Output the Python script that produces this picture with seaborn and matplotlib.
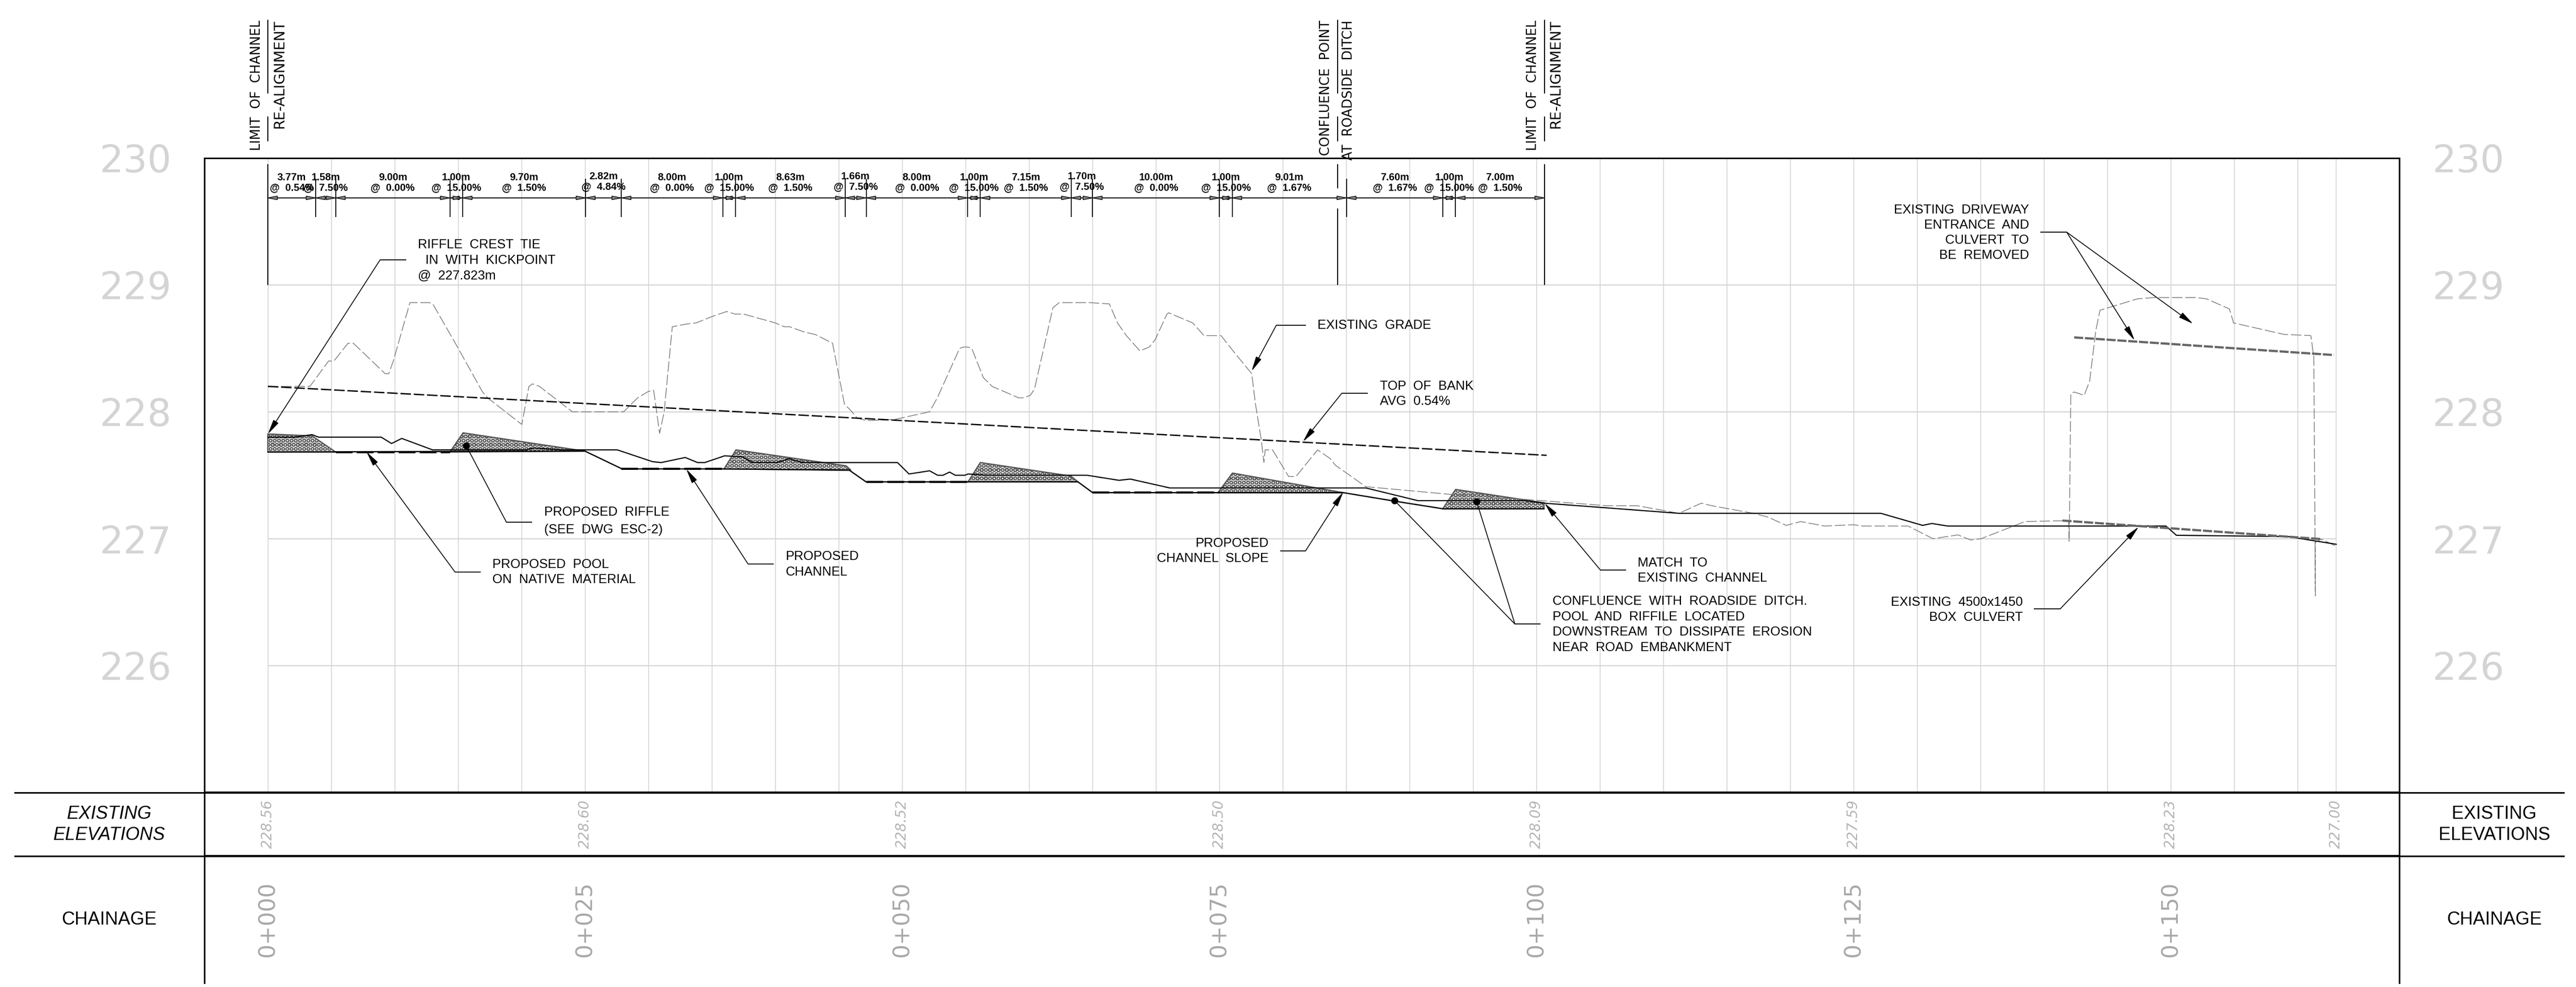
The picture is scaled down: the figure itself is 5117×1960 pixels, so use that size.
#!/usr/bin/env python3

import matplotlib
matplotlib.use("Agg")
import matplotlib.pyplot as plt
import numpy as np
import seaborn as sns

# -------------------------------
# DATA (chainage in m, elevation in m)
# -------------------------------
grade_ch = [0, 3.32, 4.79, 5.21, 6.32, 6.74, 9.25, 9.53, 9.89, 11.2, 11.33, 12.73, 13.0, 14.95,
            16.9, 17.32, 20.02, 20.58, 20.86, 21.41, 24.0, 28.04, 29.15, 29.99, 30.41, 30.88,
            31.24, 31.88, 32.91, 33.75, 35.0, 36.17, 36.81, 37.5, 40.0, 40.7, 41.12, 42.24, 43.17,
            44.51, 45.45, 45.95, 46.46, 47.21, 49.43, 52.16, 52.77, 54.53, 54.86, 55.14, 55.48,
            56.39, 57.09, 59.18, 59.6, 60.1, 60.43, 61.88, 62.38, 64.75, 66.33, 66.97, 67.67,
            68.73, 69.48, 69.95, 70.87, 71.0, 72.9, 73.79, 75.13, 76.16, 77.55, 77.83, 78.3,
            78.51, 78.61, 79.19, 80.46, 81.04, 82.74, 83.75, 84.13, 86.54, 93.12, 99.07, 105.5,
            107.93, 111.22, 112.99, 113.81, 117.1, 118.25, 119.67, 120.82, 122.69, 125.0, 125.66,
            129.28, 131.25, 133.22, 134.21, 135.03, 138.49, 141.94, 141.98, 142.11, 142.37,
            143.16, 143.59, 144.08, 144.41, 147.37, 148.69, 151.98, 152.8, 154.61, 154.94,
            158.89, 161.03, 161.26, 161.39, 161.36, 161.85, 163.04]
grade_el = [228.2, 228.2, 228.4, 228.4, 228.54, 228.54, 228.3, 228.3, 228.4, 228.86, 228.86, 228.86,
            228.85, 228.51, 228.16, 228.11, 227.9, 228.2, 228.22, 228.2, 228.0, 228.0, 228.11,
            228.16, 228.17, 227.83, 228.0, 228.67, 228.69, 228.7, 228.75, 228.79, 228.77, 228.77,
            228.7, 228.67, 228.67, 228.63, 228.608, 228.54, 228.06, 228.01, 227.95, 227.93,
            227.94, 228.0, 228.11, 228.5, 228.51, 228.51, 228.5, 228.27, 228.2, 228.11, 228.11,
            228.13, 228.18, 228.82, 228.86, 228.86, 228.85, 228.7, 228.6, 228.48, 228.51, 228.57,
            228.77, 228.78, 228.7, 228.6, 228.6, 228.47, 228.3, 228.07, 227.78, 227.6, 227.7,
            227.7, 227.49, 227.49, 227.7, 227.63, 227.58, 227.41, 227.35, 227.31, 227.26, 227.26,
            227.2, 227.28, 227.26, 227.2, 227.17, 227.105, 227.135, 227.1, 227.11, 227.1, 227.1,
            227.0, 227.03, 226.99, 227.0, 227.135, 227.143, 226.98, 228.14, 228.156, 228.13,
            228.24, 228.64, 228.8, 228.89, 228.9, 228.9, 228.89, 228.81, 228.7, 228.61, 228.6,
            228.43, 226.55, 226.97, 226.997, 226.94]

channel_ch = [0, 2.1, 3.49, 4.0, 8.94, 9.75, 10.56, 12.98, 20.33, 20.96, 23.11, 27.54, 30.32, 31.01,
              32.9, 33.87, 34.44, 36.0, 37.43, 38.19, 40.14, 41.07, 42.16, 49.63, 50.54, 52.16,
              52.79, 53.22, 53.73, 54.18, 54.94, 55.19, 56.59, 64.56, 67.09, 67.98, 71.09, 74.13,
              86.54, 90.64, 99.07, 100.59, 105.27, 111.22, 113.83, 127.14, 130.43, 131.15, 132.4,
              149.61, 150.43, 159.22, 163.04]
channel_el = [227.8, 227.8, 227.82, 227.8, 227.8, 227.75, 227.79, 227.7, 227.7, 227.715, 227.7, 227.7,
              227.607, 227.6, 227.64, 227.6, 227.6, 227.653, 227.645, 227.6, 227.6, 227.63, 227.6,
              227.6, 227.51, 227.535, 227.5, 227.5, 227.525, 227.5, 227.5, 227.51, 227.5, 227.5,
              227.46, 227.47, 227.4, 227.4, 227.4, 227.3, 227.3, 227.28, 227.245, 227.2, 227.2,
              227.2, 227.105, 227.12, 227.1, 227.1, 227.027, 227.017, 226.956]

proposed_ch = [0, 25.0, 27.92, 35.96, 45.83, 47.15, 63.85, 65.01, 84.76, 88.81, 92.61, 100.59]
proposed_el = [227.683, 227.69, 227.55, 227.55, 227.54, 227.448, 227.448, 227.363, 227.363, 227.296,
               227.236, 227.236]

pool_ch = [(5.35, 14.35), (27.87, 35.87), (47.16, 55.16), (65.01, 75.01)]
pool_el = [227.683, 227.55, 227.448, 227.363]

bank_ch = [0, 100.8]
bank_el = [228.2, 227.657]

culvert_top_ch = [142.37, 162.84]
culvert_top_el = [228.586, 228.447]
culvert_low_ch = [141.45, 161.85]
culvert_low_el = [227.143, 226.997]

riffle_ch = [[0, 3.49, 5.34, 0],
             [14.35, 15.39, 25.0],
             [35.96, 36.9, 45.58, 45.96],
             [55.19, 56.16, 63.29, 63.85],
             [74.89, 76.03, 84.76],
             [92.61, 93.62, 100.59, 100.59]]
riffle_el = [[227.825, 227.81, 227.683, 227.683],
             [227.683, 227.834, 227.69],
             [227.55, 227.7, 227.574, 227.54],
             [227.448, 227.6, 227.494, 227.448],
             [227.363, 227.517, 227.363],
             [227.236, 227.388, 227.283, 227.236]]

seg_lengths = [3.77, 1.58, 9.00, 1.00, 9.70, 2.82, 8.00, 1.00, 8.63, 1.66,
               8.00, 1.00, 7.15, 1.70, 10.00, 1.00, 9.01, 7.60, 1.00, 7.00]
seg_slopes = [0.54, 7.50, 0.00, 15.00, 1.50, 4.84, 0.00, 15.00, 1.50, 7.50,
              0.00, 15.00, 1.50, 7.50, 0.00, 15.00, 1.67, 1.67, 15.00, 1.50]

table_ch = [0, 25, 50, 75, 100, 125, 150, 163]
table_el = ["228.56", "228.60", "228.52", "228.50", "228.09", "227.59", "228.23", "227.00"]
chainage_ch = [0, 25, 50, 75, 100, 125, 150]
chainage_lab = ["0+000", "0+025", "0+050", "0+075", "0+100", "0+125", "0+150"]
elev_ticks = [226, 227, 228, 229, 230]
grid_ch = list(range(0, 165, 5)) + [163]
grid_el = [226, 227, 228, 229]

# -------------------------------
# FIGURE
# -------------------------------
W, H = 5117, 1960
sns.set_theme(style="white")
plt.rcParams["lines.scale_dashes"] = False
plt.rcParams["hatch.linewidth"] = 1.1
plt.rcParams["hatch.color"] = "#4a4a4a"
LABEL_FONT = "Liberation Sans"

fig = plt.figure(figsize=(W / 100, H / 100), dpi=100, facecolor="white")
ax = fig.add_axes([406 / W, (H - 1952) / H, (4766 - 406) / W, (1952 - 313.6) / H])
ax.set_xlim(-5, 168)
ax.set_ylim(223.5, 230)


# picture pixel -> chainage / elevation, used for the notes only
def pt(px, py):
    return (px - 532) / 25.2, 230 - (py - 313.6) / 252


for side in ["left", "right", "top"]:
    ax.spines[side].set_visible(True)
    ax.spines[side].set_color("black")
    ax.spines[side].set_linewidth(2.2)
ax.spines["bottom"].set_visible(False)

ax.set_xticks([])
ax.set_yticks(elev_ticks)
ax.tick_params(axis="y", length=0, pad=47, labelsize=54, labelcolor="#d4d4d4",
               labelleft=True, labelright=True)
for lab in ax.get_yticklabels():
    lab.set_family("DejaVu Sans")

# -------------------------------
# GRID AND TABLE LINES
# -------------------------------
ax.vlines(grid_ch, 225, 230, color="#cccccc", lw=1.0, zorder=1)
ax.hlines(grid_el, 0, 163, color="#d4d4d4", lw=1.5, zorder=1)
for y in [225, 224.5]:
    ax.plot([-20, -5], [y, y], color="black", lw=2.3, clip_on=False, solid_capstyle="butt")
    ax.plot([-5, 168], [y, y], color="black", lw=3.2, solid_capstyle="butt")
    ax.plot([168, 181], [y, y], color="black", lw=2.3, clip_on=False, solid_capstyle="butt")

# -------------------------------
# PROFILE LINES
# -------------------------------
for cx, cy in zip(riffle_ch, riffle_el):
    ax.fill(cx, cy, facecolor="#dddddd", edgecolor="#555555", hatch="OOo", lw=1.8, zorder=2)

sns.lineplot(x=grade_ch, y=grade_el, sort=False, estimator=None, errorbar=None, ax=ax,
             color="#707070", linewidth=1.0, linestyle=(0, (15, 4)), zorder=3)
sns.lineplot(x=channel_ch, y=channel_el, sort=False, estimator=None, errorbar=None, ax=ax,
             color="black", linewidth=1.6, zorder=4)
sns.lineplot(x=proposed_ch, y=proposed_el, sort=False, estimator=None, errorbar=None, ax=ax,
             color="black", linewidth=1.8, zorder=4)
for (c0, c1), e in zip(pool_ch, pool_el):
    ax.plot([c0, c1], [e, e], color="black", lw=3.0, ls=(0, (24, 6)), zorder=4)
sns.lineplot(x=bank_ch, y=bank_el, sort=False, estimator=None, errorbar=None, ax=ax,
             color="black", linewidth=1.9, linestyle=(0, (15, 4)), zorder=4)
for cx, cy in [(culvert_top_ch, culvert_top_el), (culvert_low_ch, culvert_low_el)]:
    sns.lineplot(x=cx, y=cy, sort=False, estimator=None, errorbar=None, ax=ax,
                 color="#666666", linewidth=3.2, linestyle=(0, (13, 2.5)), zorder=5)

# -------------------------------
# SEGMENT DIMENSIONS
# -------------------------------
dim_y = 229.685
edges = np.concatenate([[0], np.cumsum(seg_lengths)])
ax.plot([edges[0], edges[-1]], [dim_y, dim_y], color="black", lw=1.5, zorder=4)
ax.vlines(edges[1:-1], 229.534, 229.836, color="black", lw=1.3, zorder=4)
for c in [0, edges[-1]]:
    ax.vlines(c, 229.0, 229.95, color="black", lw=1.4, zorder=4)
ax.vlines(84.3, 229.76, 229.95, color="black", lw=1.4, zorder=4)
ax.vlines(84.3, 229.0, 229.6, color="black", lw=1.4, zorder=4)

head_l, head_h = 0.75, 0.014
for c0, c1, ln, sl in zip(edges[:-1], edges[1:], seg_lengths, seg_slopes):
    ax.fill([c0, c0 + head_l, c0 + head_l], [dim_y, dim_y + head_h, dim_y - head_h],
            facecolor="#8a8a8a", edgecolor="black", lw=1.0, zorder=5)
    ax.fill([c1, c1 - head_l, c1 - head_l], [dim_y, dim_y + head_h, dim_y - head_h],
            facecolor="#8a8a8a", edgecolor="black", lw=1.0, zorder=5)
    up = 0.008 if ln in (2.82, 1.66, 1.70) else 0
    mid = (c0 + c1) / 2
    ax.text(mid, 229.845 + up, f"{ln:.2f}m", ha="center", va="center", fontsize=14.5,
            family=LABEL_FONT, weight="bold", color="black", zorder=6)
    ax.text(mid, 229.765 + up, f"@  {sl:.2f}%", ha="center", va="center", fontsize=14.5,
            family=LABEL_FONT, weight="bold", color="black", zorder=6)

# -------------------------------
# TOP MARKERS
# -------------------------------
for c in [0, 84.3, edges[-1]]:
    ax.plot([c, c], [230.51, 231.086], color="black", lw=1.4, clip_on=False)
    ax.plot([c, c], [230.133, 230.324], color="black", lw=1.4, clip_on=False)

top_labels = [(510, "LIMIT  OF  CHANNEL"), (555, "RE-ALIGNMENT"),
              (2634, "CONFLUENCE  POINT"), (2679, "AT  ROADSIDE  DITCH"),
              (3045, "LIMIT  OF  CHANNEL"), (3090, "RE-ALIGNMENT")]
for px, lab in top_labels:
    x, y = pt(px, 40)
    size = 20.5 if lab == "RE-ALIGNMENT" else 18.5
    ax.text(x, y, lab, rotation=90, ha="center", va="top", fontsize=size, family="DejaVu Sans",
            color="black", clip_on=False)


# -------------------------------
# LEADERS AND NOTES
# -------------------------------
def leader(x0, x1, y, tips, dots=False):
    ax.plot(*zip(pt(x0, y), pt(x1, y)), color="black", lw=1.3, zorder=6, solid_capstyle="butt")
    for tx, ty in tips:
        if dots:
            ax.plot(*zip(pt(x1, y), pt(tx, ty)), color="black", lw=1.2, zorder=6)
            ax.plot(*pt(tx, ty), marker="o", ms=9, color="black", zorder=7)
        else:
            ax.annotate("", xy=pt(tx, ty), xytext=pt(x1, y), zorder=6,
                        arrowprops=dict(arrowstyle="-|>,head_length=1.8,head_width=0.36",
                                        mutation_scale=10, color="black", lw=1.2,
                                        shrinkA=0, shrinkB=0))


def note(px, py, lab, ha="left"):
    x, y = pt(px, py)
    ax.text(x, y, lab, ha=ha, va="center", fontsize=18.5, family=LABEL_FONT, color="black", zorder=7)


leader(807, 755, 516, [(532, 862)])
note(830, 486, "RIFFLE  CREST  TIE")
note(845, 517, "IN  WITH  KICKPOINT")
note(830, 547, "@  227.823m")

leader(1057, 1006, 1037, [(926, 885)], dots=True)
note(1081, 1017, "PROPOSED  RIFFLE")
note(1081, 1052, "(SEE  DWG  ESC-2)")

leader(955, 904, 1136, [(728, 897)])
note(978, 1121, "PROPOSED  POOL")
note(978, 1151, "ON  NATIVE  MATERIAL")

leader(1537, 1486, 1120, [(1363, 931)])
note(1561, 1105, "PROPOSED")
note(1561, 1136, "CHANNEL")

leader(2594, 2535, 646, [(2486, 737)])
note(2617, 646, "EXISTING  GRADE")

leader(2717, 2665, 781, [(2588, 877)])
note(2741, 767, "TOP  OF  BANK")
note(2741, 797, "AVG  0.54%")

leader(2543, 2593, 1094, [(2668, 977)])
note(2520, 1079, "PROPOSED", ha="right")
note(2520, 1109, "CHANNEL  SLOPE", ha="right")

leader(3230, 3179, 1132, [(3068, 999)])
note(3253, 1118, "MATCH  TO")
note(3253, 1148, "EXISTING  CHANNEL")

leader(3060, 3009, 1239, [(2770, 994), (2933, 996)], dots=True)
note(3084, 1194, "CONFLUENCE  WITH  ROADSIDE  DITCH.")
note(3084, 1225, "POOL  AND  RIFFILE  LOCATED")
note(3084, 1255, "DOWNSTREAM  TO  DISSIPATE  EROSION")
note(3084, 1286, "NEAR  ROAD  EMBANKMENT")

leader(4053, 4105, 461, [(4240, 676), (4356, 643)])
note(4030, 417, "EXISTING  DRIVEWAY", ha="right")
note(4030, 447, "ENTRANCE  AND", ha="right")
note(4030, 477, "CULVERT  TO", ha="right")
note(4030, 507, "BE  REMOVED", ha="right")

leader(4040, 4092, 1209, [(4248, 1046)])
note(4018, 1196, "EXISTING  4500x1450", ha="right")
note(4018, 1226, "BOX  CULVERT", ha="right")

# -------------------------------
# TABLE TEXT
# -------------------------------
for c, lab in zip(table_ch, table_el):
    ax.text(c, pt(0, 1636)[1], lab, rotation=90, ha="center", va="center", fontsize=20,
            style="italic", family="DejaVu Sans", color="#b4b4b4", clip_on=False)
for c, lab in zip(chainage_ch, chainage_lab):
    ax.text(c, pt(0, 1825)[1], lab, rotation=90, ha="center", va="center", fontsize=32,
            family="DejaVu Sans", color="#a8a8a8", clip_on=False)

for px, style in [(217, "italic"), (4954, "normal")]:
    for py, lab in [(1616, "EXISTING"), (1658, "ELEVATIONS")]:
        x, y = pt(px, py)
        ax.text(x, y, lab, ha="center", va="center", fontsize=26, style=style, family=LABEL_FONT,
                color="black", clip_on=False)
    x, y = pt(px, 1826)
    ax.text(x, y, "CHAINAGE", ha="center", va="center", fontsize=26, family=LABEL_FONT,
            color="black", clip_on=False)

fig.savefig("out.png", dpi=100, facecolor="white")
